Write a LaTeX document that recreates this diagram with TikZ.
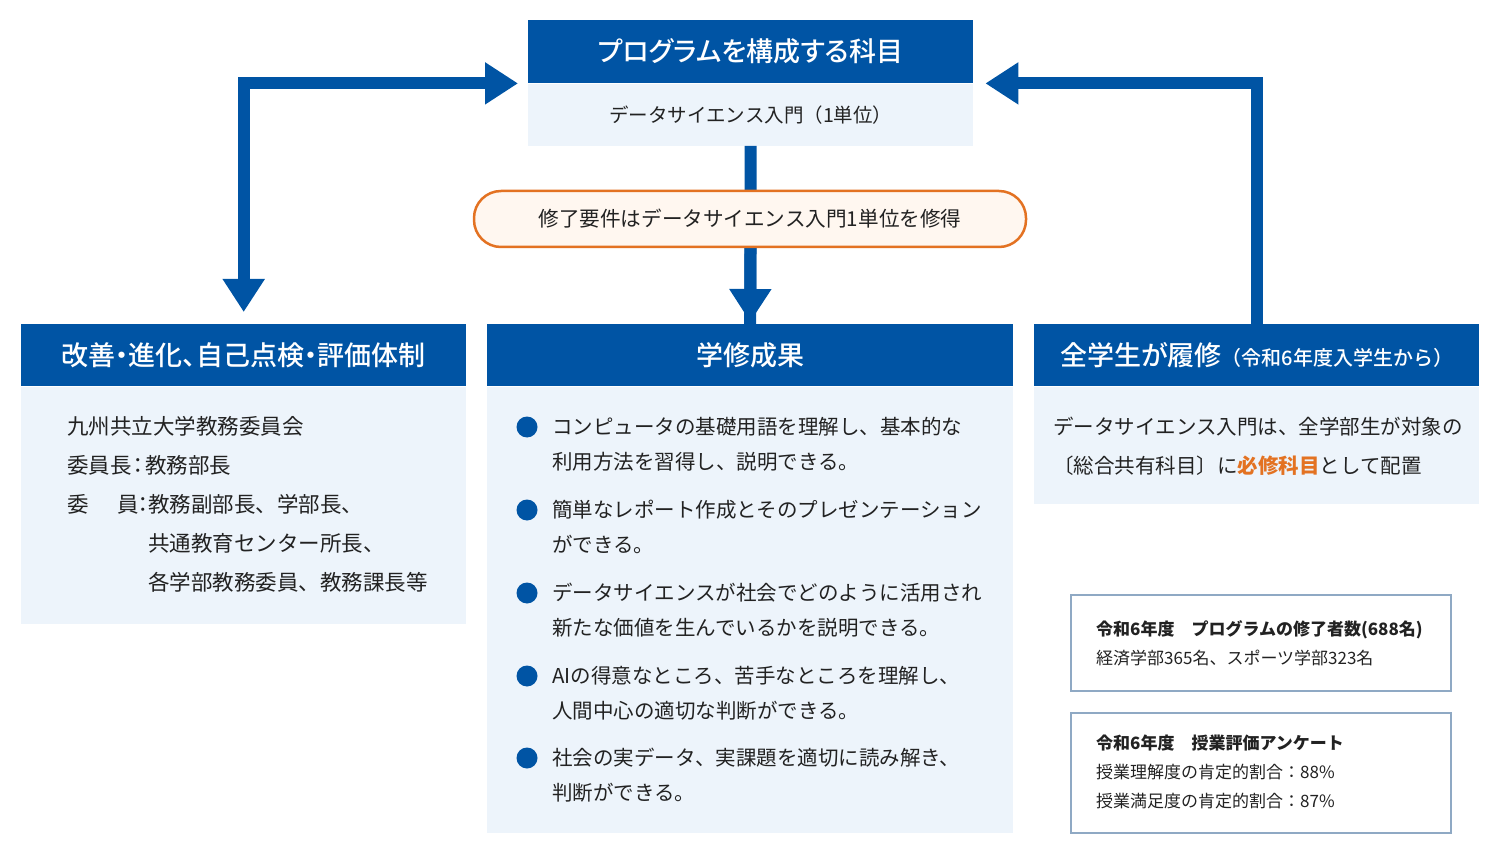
\documentclass[tikz,border=0pt]{standalone}
\usepackage{fontspec}
\setmainfont{Noto Sans CJK JP}
\newfontfamily\headfont[RawFeature=+palt]{Noto Sans CJK JP Medium}
\usetikzlibrary{arrows.meta,positioning}

\definecolor{kyublue}{HTML}{0054A4}
\definecolor{kyulight}{HTML}{EDF4FB}
\definecolor{kyuorange}{HTML}{E37222}
\definecolor{kyucream}{HTML}{FFF7F0}
\definecolor{kyuframe}{HTML}{8FA9C4}
\definecolor{kyutext}{HTML}{222222}

\tikzset{
  headbox/.style={fill=kyublue, text=white, inner sep=0pt, anchor=north west,
    font=\headfont\fontsize{27}{30}\selectfont},
  bodybox/.style={fill=kyulight, text=kyutext, inner sep=0pt, anchor=north west},
  bodytext/.style={text=kyutext, inner sep=0pt, align=left, anchor=north west,
    font=\fontsize{20.5}{39}\selectfont},
  bulletdot/.style={circle, fill=kyublue, minimum size=21pt, inner sep=0pt},
  bigarrow/.style={draw=kyublue, line width=12pt},
  bigtip/.tip={Triangle[width=40pt,length=33pt]},
  statbox/.style={draw=kyuframe, line width=1.5pt, inner sep=0pt, anchor=north west},
}

\begin{document}
\begin{tikzpicture}[x=1pt, y=-1pt]
		\useasboundingbox (0,0) rectangle (1500,850);
		
		% Top: subjects of the programme
		\node[headbox, minimum width=445pt, minimum height=63pt] (progHead) at (528,20) {プログラムを構成する科目};
		\node[bodybox, minimum width=445pt, minimum height=62pt, font=\fontsize{19.5}{24}\selectfont] (progBody) at (progHead.south west) {データサイエンス入門（1単位）};
		
		% Three column headers and panels
		\node[headbox, minimum width=445pt, minimum height=62pt] (kaizenHead) at (21,324) {改善・進化、自己点検・評価体制};
		\node[bodybox, minimum width=445pt, minimum height=237pt] (kaizenBody) at (kaizenHead.south west) {};
		
		\node[headbox, minimum width=526pt, minimum height=62pt] (gakuHead) at (487,324) {学修成果};
		\node[bodybox, minimum width=526pt, minimum height=446pt] (gakuBody) at (gakuHead.south west) {};
		
		\node[headbox, minimum width=445pt, minimum height=62pt] (zenHead) at (1034,324) {全学生が履修{\fontspec{Noto Sans CJK JP Medium}\fontsize{20}{24}\selectfont（令和6年度入学生から）}};
		\node[bodybox, minimum width=445pt, minimum height=117pt] (zenBody) at (zenHead.south west) {};
		
		% Arrows
		\draw[bigarrow, bigtip-bigtip] ([xshift=-10pt]progHead.south west) -| ([yshift=12pt]kaizenHead.north);
		\draw[bigarrow, -bigtip] (zenHead.north) |- ([xshift=12pt]progHead.south east);
		\draw[bigarrow] (progBody.south) -- (gakuHead.north);
		\draw[bigarrow, -bigtip] ([yshift=-60pt]progBody.south) -- ([yshift=2pt]gakuHead.north);
		
		\node[draw=kyuorange, fill=kyucream, line width=2.5pt, rounded corners=27pt, minimum width=552pt, minimum height=56pt,
		  text=kyutext, font=\fontsize{20.6}{24}\selectfont] (pill) at (750,219) {修了要件はデータサイエンス入門1単位を修得};
		
		% Panel texts
		\node[bodytext, font=\fontsize{21.5}{39}\selectfont] (kaizenText) at (67,416) {九州共立大学教務委員会\\
			委員長\kern-4.5pt：\kern-3.5pt教務部長\\
			委\hspace{28.5pt}員\kern-6pt：\kern-6pt教務副部長、学部長、\\
			\hspace*{81pt}共通教育センター所長、\\
			\hspace*{81pt}各学部教務委員、教務課長等};
		
		\foreach \y/\txt [count=\i] in {
			427/{コンピュータの基礎用語を理解し、基本的な\\利用方法を習得し、説明できる。},
			510/{簡単なレポート作成とそのプレゼンテーション\\ができる。},
			593/{データサイエンスが社会でどのように活用され\\新たな価値を生んでいるかを説明できる。},
			676/{AIの得意なところ、苦手なところを理解し、\\人間中心の適切な判断ができる。},
			758/{社会の実データ、実課題を適切に読み解き、\\判断ができる。}}
		{
			\node[bulletdot] (dot\i) at (527,\y) {};
			\node[bodytext, font=\fontsize{20.5}{35}\selectfont] (item\i) at (552,\y-10) {\txt};
		}
		
		\node[bodytext] (zenText) at (1053,417) {データサイエンス入門は、全学部生が対象の\\
			〔総合共有科目〕に{\bfseries\color{kyuorange}必修科目}として配置};
		
		% Results boxes
		\node[statbox, minimum width=380pt, minimum height=96pt] (statA) at (1070,594) {};
		\node[bodytext, font=\fontsize{17}{29}\selectfont] (statAText) at (1096,620) {\textbf{令和6年度　プログラムの修了者数(688名)}\\
			経済学部365名、スポーツ学部323名};
		\node[statbox, minimum width=380pt, minimum height=120pt] (statB) at (1070,712) {};
		\node[bodytext, font=\fontsize{17}{29}\selectfont] (statBText) at (1096,735) {\textbf{令和6年度　授業評価アンケート}\\
			授業理解度の肯定的割合：88\%\\
			授業満足度の肯定的割合：87\%};
	\end{tikzpicture}
\end{document}
